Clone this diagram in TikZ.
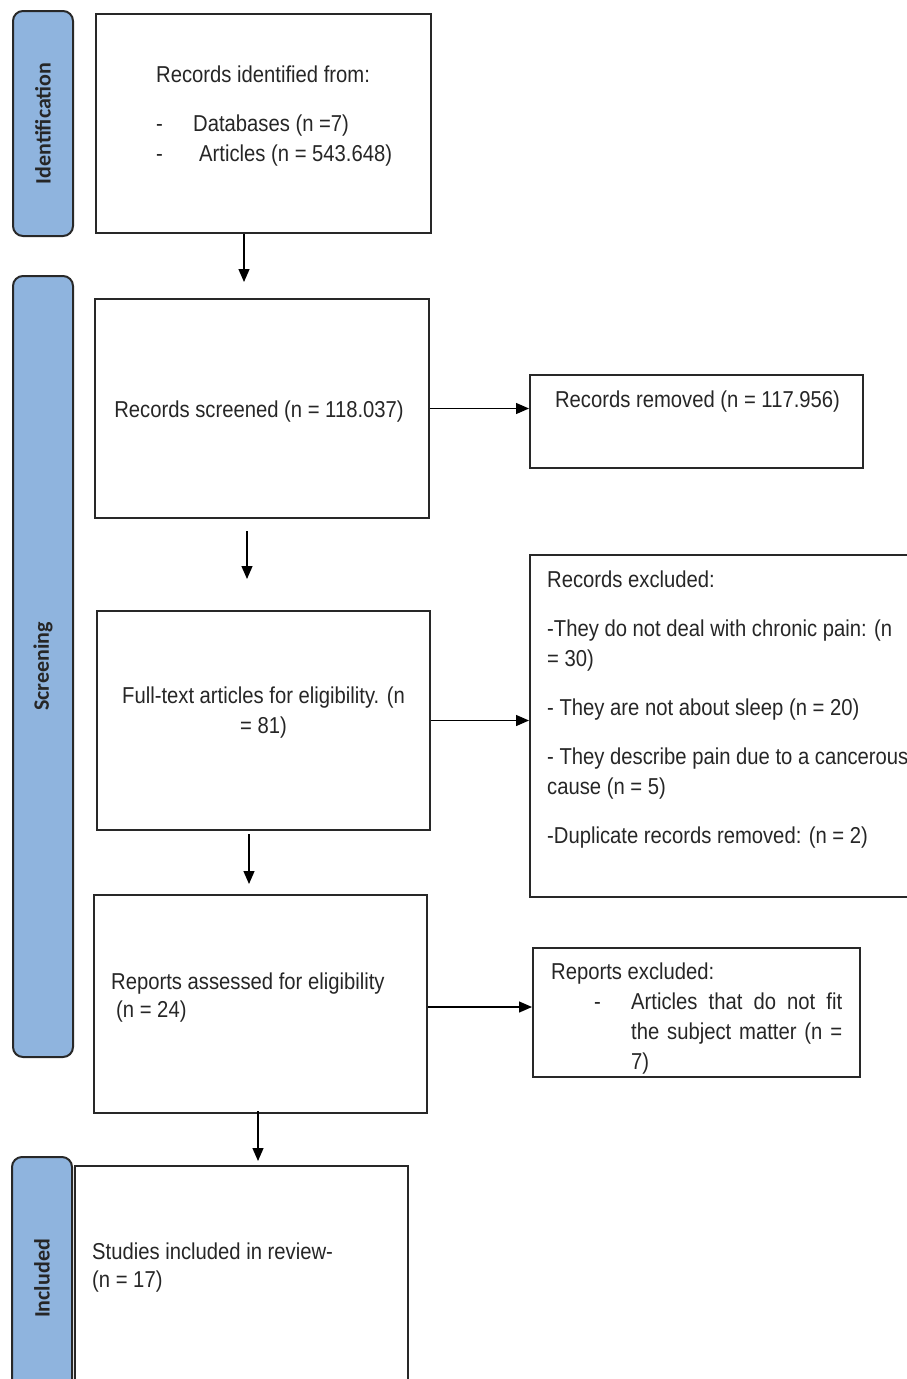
\documentclass[tikz,border=0pt]{standalone}
\usepackage{fontspec}
\setmainfont{Liberation Sans}[FakeStretch=0.88]
\newfontfamily\sidefont{Carlito}
\usepackage{tikz}
\usetikzlibrary{arrows.meta,positioning,shapes}
\definecolor{barblue}{RGB}{143,180,222}
\definecolor{linegray}{RGB}{40,40,40}

\tikzset{
  box/.style={draw=linegray, line width=2pt, rectangle, inner sep=0pt},
  bar/.style={draw=linegray, line width=2pt, fill=barblue, rounded corners=10pt, rotate=90,
    inner sep=0pt, font=\sidefont\bfseries\fontsize{22}{26}\selectfont, text=black!85},
  txt/.style={inner sep=0pt, align=left, anchor=north west, font=\fontsize{23}{30}\selectfont, text=black!85},
  arr/.style={-{Triangle[length=13pt,width=11pt]}, line width=1.3pt, black},
}

\begin{document}
\begin{tikzpicture}[x=1pt, y=-1pt]
    \useasboundingbox (0,0) rectangle (906,1379);
    % phase bars
    \node[bar, minimum width=225pt, minimum height=60pt] (idbar)  at (43,123.5)  {Identification};
    \node[bar, minimum width=781pt, minimum height=60pt] (scrbar) at (43,666.5)  {Screening};
    \node[bar, minimum width=243pt, minimum height=60pt] (incbar) at (42,1278.5) {Included};
    % boxes
    \node[box, minimum width=335pt, minimum height=219pt] (ident)    at (263.5,123.5) {};
    \node[box, minimum width=334pt, minimum height=219pt] (screened) at (262,408.5)   {};
    \node[box, minimum width=333pt, minimum height=93pt]  (removed)  at (696.5,421.5) {};
    \node[box, minimum width=333pt, minimum height=219pt] (fulltext) at (263.5,720.5) {};
    \node[box, minimum width=390pt, minimum height=342pt] (excluded) at (725,726)     {};
    \node[box, minimum width=333pt, minimum height=218pt] (assessed) at (260.5,1004)  {};
    \node[box, minimum width=327pt, minimum height=129pt] (repexcl)  at (696.5,1012.5) {};
    \node[box, minimum width=333pt, minimum height=234pt] (included) at (241.5,1283)  {};
    % texts
    \node[txt] (ident-t) at ([shift={(61,53)}]ident.north west)
        {Records identified from:\\[19pt]
         \makebox[37pt][l]{-}Databases (n =7)\\
         \makebox[37pt][l]{-}\hspace{6pt}Articles (n = 543.648)};
    \node[txt, anchor=north] (screened-t) at ([shift={(-3,103)}]screened.north) {Records screened (n = 118.037)};
    \node[txt, anchor=north] (removed-t)  at ([shift={(1,17)}]removed.north)    {Records removed (n = 117.956)};
    \node[txt, anchor=north, align=center] (fulltext-t) at ([shift={(0,77)}]fulltext.north)
        {Full-text articles for eligibility. (n\\ = 81)};
    \node[txt] (excluded-t) at ([shift={(18,17)}]excluded.north west)
        {Records excluded:\\[19pt]
         -They do not deal with chronic pain: (n\\
         = 30)\\[19pt]
         - They are not about sleep (n = 20)\\[19pt]
         - They describe pain due to a cancerous\\
         cause (n = 5)\\[19pt]
         -Duplicate records removed: (n = 2)};
    \node[txt, font=\fontsize{23}{28}\selectfont] (assessed-t) at ([shift={(18,79)}]assessed.north west)
        {Reports assessed for eligibility\\ \hspace*{5pt}(n = 24)};
    \node[txt] (repexcl-t) at ([shift={(19,16)}]repexcl.north west)
        {Reports excluded:\\
         \hspace*{43pt}\makebox[37pt][l]{-}\makebox[211pt][s]{Articles that do not fit}\\
         \hspace*{80pt}\makebox[211pt][s]{the subject matter (n =}\\
         \hspace*{80pt}7)};
    \node[txt, font=\fontsize{23}{28}\selectfont] (included-t) at ([shift={(18,78)}]included.north west)
        {Studies included in review-\\(n = 17)};
    % flow
    \draw[arr] ([xshift=-19.5pt]ident.south) -- ++(0,48);
    \draw[arr] ([xshift=-15pt,yshift=-12pt]screened.south) -- ++(0,48);
    \draw[arr] ([xshift=-14.5pt,yshift=-3pt]fulltext.south) -- ++(0,50);
    \draw[arr] ([xshift=-2.5pt,yshift=3pt]assessed.south) -- ++(0,50);
    \path[arr]
    (screened.east) edge (screened.east -| removed.west)
    (fulltext.east) edge (fulltext.east -| excluded.west)
    ([yshift=-3pt]assessed.east) edge ([yshift=-3pt]assessed.east -| repexcl.west);
\end{tikzpicture}
\end{document}
